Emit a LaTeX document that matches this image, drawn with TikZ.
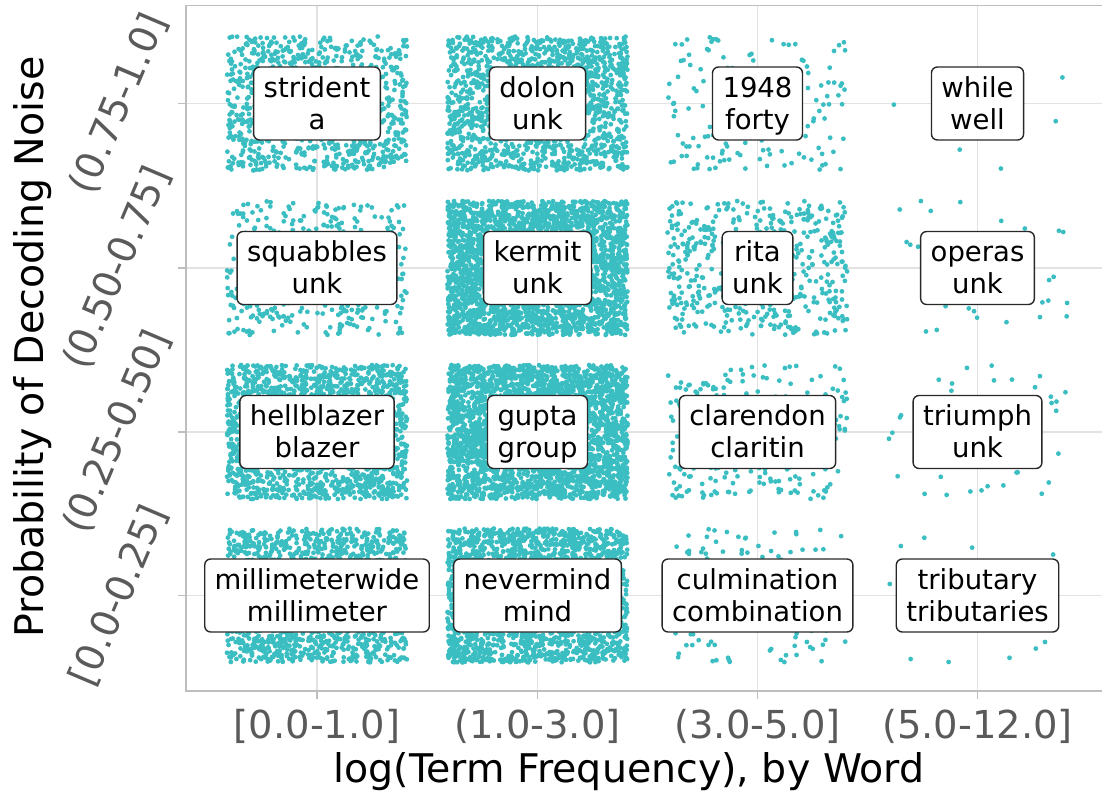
\documentclass[tikz,border=0pt]{standalone}
\usepackage{fontspec}
\setmainfont{DejaVu Sans}
\definecolor{dotc}{RGB}{59,190,194}
\definecolor{gridc}{RGB}{226,226,226}
\definecolor{framec}{RGB}{190,190,190}
\definecolor{tickc}{RGB}{90,90,90}
\definecolor{lblc}{RGB}{40,40,40}
\newcommand{\dotrad}{2.4}
\newcommand{\jx}{90}
\newcommand{\jy}{67}
\newcommand{\colA}{317}
\newcommand{\colB}{537.5}
\newcommand{\colC}{757.5}
\newcommand{\colD}{977.5}
\newcommand{\rowA}{103.5}
\newcommand{\rowB}{268}
\newcommand{\rowC}{432}
\newcommand{\rowD}{595.5}
% one round dot = a zero-length stroke with round caps
\newcommand{\cloud}[3]{\foreach \k in {1,...,#3}{%
    \pgfmathsetmacro{\px}{#1+\jx*rand}\pgfmathsetmacro{\py}{#2+\jy*rand}%
    \pgfpathmoveto{\pgfpointxy{\px}{\py}}\pgfpathlineto{\pgfpointxy{\px}{\py}}\pgfusepath{stroke}}}
\tikzset{
  dots/.style={draw=dotc, line width=2*\dotrad pt, line cap=round},
  lbl/.style={draw=lblc, fill=white, rounded corners=6pt, line width=1.4pt, align=center,
    font=\fontsize{27.5}{32}\selectfont, text=black, inner xsep=10pt, inner ysep=0pt,
    minimum height=73pt, text height=55.5pt, text depth=4.5pt},
  tk/.style={text=tickc, font=\fontsize{38.5}{46}\selectfont, inner sep=0pt},
  axlbl/.style={text=black, font=\fontsize{39.5}{47}\selectfont, inner sep=0pt}
}

\begin{document}
\begin{tikzpicture}[x=1pt, y=-1pt]
        \useasboundingbox (0,0) rectangle (1102,792);
        \pgfmathsetseed{1948}

        %grid
        \foreach \gx in {\colA,\colB,\colC,\colD} \draw[gridc, line width=1.2pt] (\gx,6) -- (\gx,691);
        \foreach \gy in {\rowA,\rowB,\rowC,\rowD} \draw[gridc, line width=1.2pt] (186,\gy) -- (1102,\gy);

        %dots
        \begin{scope}[dots]
        \cloud{\colA}{\rowA}{1000} \cloud{\colB}{\rowA}{1600} \cloud{\colC}{\rowA}{150}  \cloud{\colD}{\rowA}{6}
        \cloud{\colA}{\rowB}{400}  \cloud{\colB}{\rowB}{3000} \cloud{\colC}{\rowB}{500}  \cloud{\colD}{\rowB}{30}
        \cloud{\colA}{\rowC}{1800} \cloud{\colB}{\rowC}{3000} \cloud{\colC}{\rowC}{250}  \cloud{\colD}{\rowC}{45}
        \cloud{\colA}{\rowD}{1500} \cloud{\colB}{\rowD}{2200} \cloud{\colC}{\rowD}{150}  \cloud{\colD}{\rowD}{20}
        \end{scope}

        %labels
        \node[lbl, name=strident  ] at (\colA,\rowA) {strident\\a};
        \node[lbl, name=dolon     ] at (\colB,\rowA) {dolon\\unk};
        \node[lbl, name=forty     ] at (\colC,\rowA) {1948\\forty};
        \node[lbl, name=while     ] at (\colD,\rowA) {while\\well};
        \node[lbl, name=squabbles ] at (\colA,\rowB) {squabbles\\unk};
        \node[lbl, name=kermit    ] at (\colB,\rowB) {kermit\\unk};
        \node[lbl, name=rita      ] at (\colC,\rowB) {rita\\unk};
        \node[lbl, name=operas    ] at (\colD,\rowB) {operas\\unk};
        \node[lbl, name=hellblazer] at (\colA,\rowC) {hellblazer\\blazer};
        \node[lbl, name=gupta     ] at (\colB,\rowC) {gupta\\group};
        \node[lbl, name=clarendon ] at (\colC,\rowC) {clarendon\\claritin};
        \node[lbl, name=triumph   ] at (\colD,\rowC) {triumph\\unk};
        \node[lbl, name=millimeter] at (\colA,\rowD) {millimeterwide\\millimeter};
        \node[lbl, name=nevermind ] at (\colB,\rowD) {nevermind\\mind};
        \node[lbl, name=culmination] at (\colC,\rowD) {culmination\\combination};
        \node[lbl, name=tributary ] at (\colD,\rowD) {tributary\\tributaries};

        %frame and ticks
        \draw[framec, line width=1.8pt] (1102,5.5) -- (186,5.5) -- (186,691) -- (1102,691);
        \foreach \gx in {\colA,\colB,\colC,\colD} \draw[framec, line width=1.2pt] (\gx,691) -- (\gx,699);
        \foreach \gy in {\rowA,\rowB,\rowC,\rowD} \draw[framec, line width=1.2pt] (178,\gy) -- (186,\gy);

        %tick labels
        \node[tk, anchor=base, name=xtA] at (\colA,738) {[0.0-1.0]};
        \node[tk, anchor=base, name=xtB] at (\colB,738) {(1.0-3.0]};
        \node[tk, anchor=base, name=xtC] at (\colC,738) {(3.0-5.0]};
        \node[tk, anchor=base, name=xtD] at (\colD,738) {(5.0-12.0]};
        \node[tk, rotate=67, name=ytA] at (119,\rowA) {(0.75-1.0]};
        \node[tk, rotate=67, name=ytB] at (117,\rowB) {(0.50-0.75]};
        \node[tk, rotate=67, name=ytC] at (117,\rowC) {(0.25-0.50]};
        \node[tk, rotate=67, name=ytD] at (119,\rowD) {[0.0-0.25]};

        %axis labels
        \node[axlbl, anchor=base, name=xlabel] at (629,782) {log(Term Frequency), by Word};
        \node[axlbl, anchor=base, rotate=90, name=ylabel] at (43,347) {Probability of Decoding Noise};
    \end{tikzpicture}
\end{document}
